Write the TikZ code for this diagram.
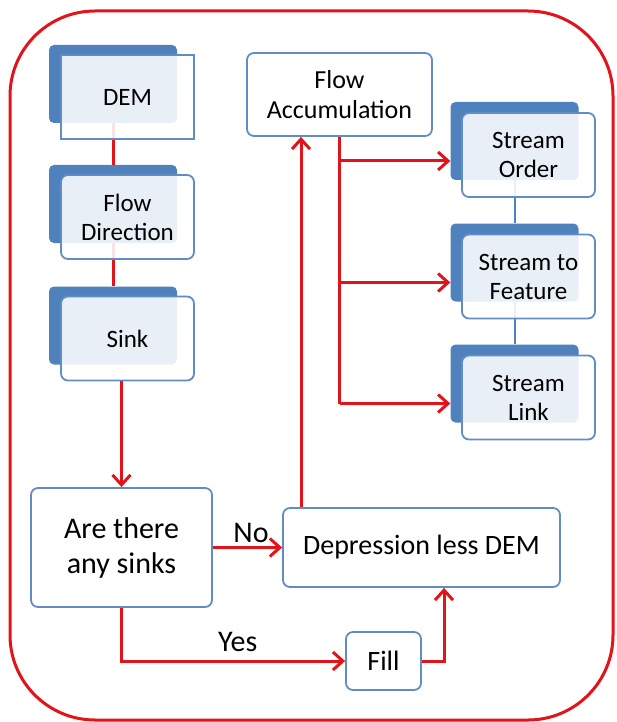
\documentclass[tikz,border=0pt]{standalone}
\usepackage{fontspec}
\setmainfont{Carlito}
\usetikzlibrary{arrows.meta,positioning,calc}
\definecolor{flowred}{RGB}{226,20,26}
\definecolor{shadeblue}{RGB}{79,129,189}
\definecolor{edgeblue}{RGB}{98,141,196}
\tikzset{myshadow/.style={fill=shadeblue, rounded corners=5pt, minimum width=128pt, minimum height=78pt, inner sep=0pt}}
\tikzset{mybox/.style={draw=edgeblue, line width=1.8pt, fill=white, fill opacity=0.88, text opacity=1,
		rounded corners=7pt, align=center, inner sep=0pt, font=\fontsize{25}{29}\selectfont}}
\tikzset{mystack/.style={mybox, minimum width=133pt, minimum height=84pt}}
\tikzset{mylabel/.style={font=\fontsize{30}{34}\selectfont, text=black}}
\tikzset{myline/.style={draw=flowred, line width=3pt}}
\tikzset{myarrow/.style={myline, -{Straight Barb[length=10pt,width=18pt]}}}

\begin{document}
\begin{tikzpicture}[x=1pt, y=-1pt]
				\useasboundingbox (0,0) rectangle (616,722);
				\draw[flowred, line width=3pt, rounded corners=85pt] (10,11) rectangle (613,720);
				
				% shadow blocks
				\node[myshadow] (dem-s) at (113,84) {};
				\node[myshadow] (fd-s) at (113,204) {};
				\node[myshadow] (sink-s) at (113,325.5) {};
				\node[myshadow] (so-s) at (514.5,141) {};
				\node[myshadow] (sf-s) at (514.5,262.5) {};
				\node[myshadow] (sl-s) at (514.5,383.5) {};
				
				\draw[myline] (dem-s.south) -- (fd-s.north);
				\draw[myline] (fd-s.south) -- (sink-s.north);
				\draw[shadeblue, line width=2pt] (so-s.south) -- (sf-s.north);
				\draw[shadeblue, line width=2pt] (sf-s.south) -- (sl-s.north);
				
				\node[mystack, sharp corners] (dem) at ($(dem-s)+(14.5,13)$) {DEM};
				\node[mystack] (fd) at ($(fd-s)+(14.5,13)$) {Flow\\Direction};
				\node[mystack] (sink) at ($(sink-s)+(14.5,13)$) {Sink};
				\node[mystack] (so) at ($(so-s)+(14,14)$) {Stream\\Order};
				\node[mystack] (sf) at ($(sf-s)+(14,14)$) {Stream to\\Feature};
				\node[mystack] (sl) at ($(sl-s)+(14,14)$) {Stream\\Link};
				
				\node[mybox, minimum width=185pt, minimum height=83pt, font=\fontsize{26}{30}\selectfont] (fa) at (339.5,94.5) {Flow\\Accumulation};
				\node[mybox, minimum width=181pt, minimum height=119pt, font=\fontsize{30}{35}\selectfont] (are) at (121.5,547.5) {Are there\\any sinks};
				\node[mybox, minimum width=277pt, minimum height=79pt, font=\fontsize{28}{32}\selectfont] (dep) at (421.5,547.5) {Depression less DEM};
				\node[mybox, minimum width=75pt, minimum height=58pt, font=\fontsize{28}{32}\selectfont] (fill) at (383.5,661) {Fill};
				
				\draw[myarrow] (are.north |- sink.south) -- (are.north);
				\draw[myarrow] (are.east) -- node[mylabel, above=0pt, pos=0.55]{No} (dep.west);
				\draw[myarrow] (are.south) |- node[mylabel, above=4pt, pos=0.76]{Yes} (fill.west);
				\draw[myarrow] (fill.east) -| ($(dep.south)+(22.5,0)$);
				
				\coordinate (up) at ($(dep.north)+(-120.5,0)$);
				\draw[myarrow] (up) -- (up |- fa.south);
				
				\draw[myline] (fa.south) -- ($(fa.south |- sl.center)+(0,6)$);
				\foreach \s in {so,sf,sl}
					\draw[myarrow] ($(fa.south |- \s.center)+(0,6)$) -- ($(\s-s.west |- \s.center)+(0,6)$);
				
\end{tikzpicture}
\end{document}
